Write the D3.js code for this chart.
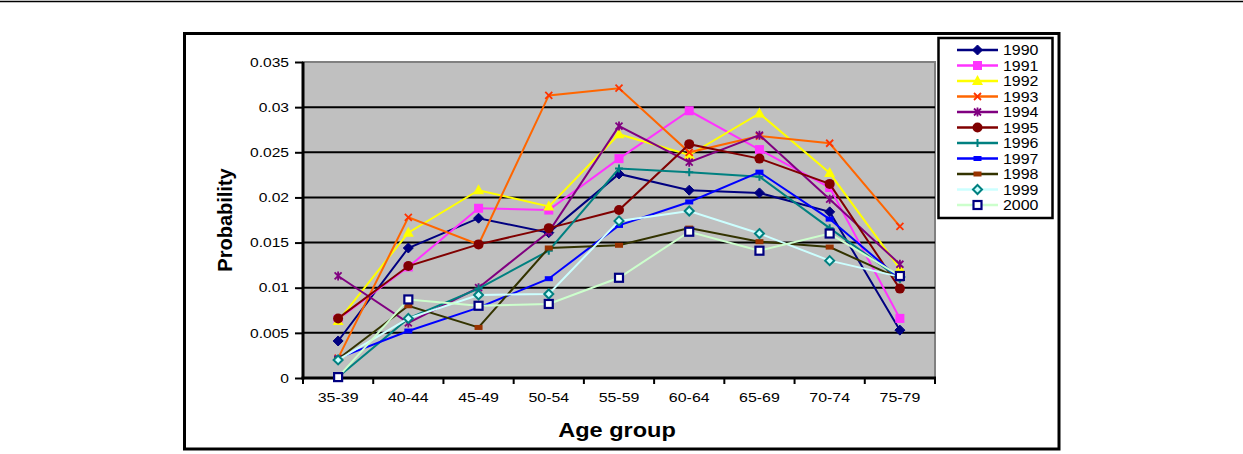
<!DOCTYPE html>
<html><head><meta charset="utf-8">
<script src="https://cdn.jsdelivr.net/npm/d3@7"></script>
<style>body{margin:0;background:#fff}svg{display:block;font-family:"Liberation Sans",Arial,sans-serif}</style>
</head><body><svg id="c" width="1243" height="454"></svg>
<script>
const categories = ["35-39","40-44","45-49","50-54","55-59","60-64","65-69","70-74","75-79"];
const yTicks = [0,0.005,0.01,0.015,0.02,0.025,0.03,0.035];
const yTickLabels = ["0","0.005","0.01","0.015","0.02","0.025","0.03","0.035"];
const seriesNames = ["1990","1991","1992","1993","1994","1995","1996","1997","1998","1999","2000"];
const v1990 = [0.0041,0.0144,0.0177,0.0161,0.0226,0.0208,0.0205,0.0184,0.0053];
const v1991 = [0.0065,0.0123,0.0188,0.0186,0.0243,0.0296,0.0253,0.0211,0.0066];
const v1992 = [0.0063,0.0161,0.0208,0.0190,0.0270,0.0247,0.0293,0.0227,0.0121];
const v1993 = [0.0022,0.0178,0.0148,0.0313,0.0321,0.0250,0.0268,0.0260,0.0168];
const v1994 = [0.0113,0.0061,0.0100,0.0162,0.0279,0.0239,0.0269,0.0198,0.0126];
const v1995 = [0.0066,0.0124,0.0148,0.0166,0.0186,0.0259,0.0243,0.0215,0.0099];
const v1996 = [0.0001,0.0066,0.0099,0.0141,0.0232,0.0228,0.0223,0.0166,0.0110];
const v1997 = [0.0022,0.0052,0.0078,0.0110,0.0169,0.0195,0.0228,0.0176,0.0110];
const v1998 = [0.0021,0.0080,0.0056,0.0144,0.0147,0.0166,0.0151,0.0145,0.0110];
const v1999 = [0.0020,0.0066,0.0092,0.0093,0.0174,0.0185,0.0160,0.0130,0.0112];
const v2000 = [0.0001,0.0087,0.0080,0.0082,0.0111,0.0162,0.0141,0.0160,0.0113];
const seriesValues = [v1990,v1991,v1992,v1993,v1994,v1995,v1996,v1997,v1998,v1999,v2000];

const styles = [
  {line:"#000080", marker:"diamond", fill:"#000080", stroke:"#000080"},
  {line:"#FF33FF", marker:"square", fill:"#FF33FF", stroke:"#FF33FF"},
  {line:"#FFFF00", marker:"triangle", fill:"#FFFF00", stroke:"#FFFF00"},
  {line:"#FF6600", marker:"x", fill:"none", stroke:"#FF3300"},
  {line:"#800080", marker:"star", fill:"none", stroke:"#800080"},
  {line:"#800000", marker:"circle", fill:"#800000", stroke:"#800000"},
  {line:"#008080", marker:"plus", fill:"none", stroke:"#008080"},
  {line:"#0000FF", marker:"dash", fill:"#0000FF", stroke:"#0000FF"},
  {line:"#333300", marker:"dash", fill:"#993300", stroke:"#993300"},
  {line:"#CCFFFF", marker:"odiamond", fill:"#CCFFFF", stroke:"#008080"},
  {line:"#CCFFCC", marker:"osquare", fill:"#FFFFFF", stroke:"#000080"}
];

function stretch(sel, f) {
  sel.each(function(){
    const w = this.getComputedTextLength();
    d3.select(this).attr("textLength", w*f).attr("lengthAdjust","spacingAndGlyphs");
  });
}

const svg = d3.select("#c");
const W = 1243, H = 454;
svg.append("line").attr("x1",0).attr("x2",W).attr("y1",1.5).attr("y2",1.5).attr("stroke","#000").attr("stroke-width",1.5);
svg.append("rect").attr("x",184.5).attr("y",33.5).attr("width",874.5).attr("height",415.5).attr("fill","#fff").attr("stroke","#000").attr("stroke-width",3);

const pl = 303, pr = 935, pt = 62, pb = 378;
const x = d3.scaleBand().domain(categories).range([pl,pr]);
const y = d3.scaleLinear().domain([0,0.035]).range([pb,pt]);

svg.append("rect").attr("x",pl).attr("y",pt).attr("width",pr-pl).attr("height",pb-pt).attr("fill","#C0C0C0").attr("stroke","#808080").attr("stroke-width",2);

svg.append("g").selectAll("line").data(yTicks.filter(d=>d>0 && d<0.035)).join("line")
  .attr("x1",pl).attr("x2",pr).attr("y1",d=>y(d)).attr("y2",d=>y(d))
  .attr("stroke","#000").attr("stroke-width",2);

const yAxis = d3.axisLeft(y).tickValues(yTicks).tickFormat((d,i)=>yTickLabels[i]).tickSize(8).tickPadding(6);
const gy = svg.append("g").attr("transform",`translate(${pl},0)`).call(yAxis);
gy.select(".domain").remove();
gy.selectAll(".tick line").attr("stroke","#000").attr("stroke-width",2);
gy.selectAll(".tick text").attr("font-size",13).attr("fill","#000").attr("font-family","Liberation Sans, Arial, sans-serif").call(stretch,1.2);
svg.append("line").attr("x1",pl).attr("x2",pl).attr("y1",pt).attr("y2",pb+1.5).attr("stroke","#000").attr("stroke-width",3);

const xAxis = d3.axisBottom(x).tickSize(0).tickPadding(14);
const gx = svg.append("g").attr("transform",`translate(0,${pb})`).call(xAxis);
gx.select(".domain").remove();
gx.selectAll(".tick text").attr("font-size",13.5).attr("fill","#000").attr("font-family","Liberation Sans, Arial, sans-serif").call(stretch,1.18);
svg.append("line").attr("x1",pl-1.5).attr("x2",pr+1).attr("y1",pb).attr("y2",pb).attr("stroke","#000").attr("stroke-width",3);
svg.append("g").selectAll("line").data(d3.range(categories.length+1)).join("line")
  .attr("x1",i=>pl+i*x.step()).attr("x2",i=>pl+i*x.step()).attr("y1",pb).attr("y2",pb+6)
  .attr("stroke","#000").attr("stroke-width",2);

svg.append("text").attr("x",(pl+pr)/2 - 2).attr("y",437).attr("text-anchor","middle")
  .attr("font-size",21).attr("font-weight","bold").text("Age group").call(stretch,1.12);
svg.append("text").attr("transform",`translate(232,220) rotate(-90)`).attr("text-anchor","middle")
  .attr("font-size",20).attr("font-weight","bold").text("Probability");

function drawMarker(g, type, st, cx, cy) {
  const s = 5;
  switch(type){
    case "diamond": g.append("path").attr("d",`M${cx},${cy-s}L${cx+s},${cy}L${cx},${cy+s}L${cx-s},${cy}Z`).attr("fill",st.fill).attr("stroke",st.stroke); break;
    case "square": g.append("rect").attr("x",cx-4.5).attr("y",cy-4.5).attr("width",9).attr("height",9).attr("fill",st.fill); break;
    case "triangle": g.append("path").attr("d",`M${cx},${cy-6}L${cx+5.5},${cy+4}L${cx-5.5},${cy+4}Z`).attr("fill",st.fill); break;
    case "x": g.append("path").attr("d",`M${cx-3.5},${cy-3.5}L${cx+3.5},${cy+3.5}M${cx-3.5},${cy+3.5}L${cx+3.5},${cy-3.5}`).attr("stroke",st.stroke).attr("stroke-width",1.8).attr("fill","none"); break;
    case "star": g.append("path").attr("d",`M${cx-3.5},${cy-3.5}L${cx+3.5},${cy+3.5}M${cx-3.5},${cy+3.5}L${cx+3.5},${cy-3.5}M${cx},${cy-4.5}L${cx},${cy+4.5}`).attr("stroke",st.stroke).attr("stroke-width",1.8).attr("fill","none"); break;
    case "circle": g.append("circle").attr("cx",cx).attr("cy",cy).attr("r",5).attr("fill",st.fill); break;
    case "plus": g.append("path").attr("d",`M${cx-4},${cy}L${cx+4},${cy}M${cx},${cy-4}L${cx},${cy+4}`).attr("stroke",st.stroke).attr("stroke-width",2).attr("fill","none"); break;
    case "dash": g.append("rect").attr("x",cx-4).attr("y",cy-2.5).attr("width",8).attr("height",5).attr("fill",st.fill); break;
    case "odiamond": g.append("path").attr("d",`M${cx},${cy-4.5}L${cx+4.5},${cy}L${cx},${cy+4.5}L${cx-4.5},${cy}Z`).attr("fill",st.fill).attr("stroke",st.stroke).attr("stroke-width",2); break;
    case "osquare": g.append("rect").attr("x",cx-4).attr("y",cy-4).attr("width",8).attr("height",8).attr("fill",st.fill).attr("stroke",st.stroke).attr("stroke-width",2.2); break;
  }
}

const line = d3.line().x((d,i)=>x(categories[i])+x.bandwidth()/2).y(d=>y(d));
const gs = svg.append("g");
seriesValues.forEach((vals,k)=>{
  const st = styles[k];
  const g = gs.append("g");
  g.append("path").datum(vals).attr("d",line).attr("fill","none").attr("stroke",st.line).attr("stroke-width",2);
  vals.forEach((v,i)=>drawMarker(g, st.marker, st, x(categories[i])+x.bandwidth()/2, y(v)));
});

const lg = svg.append("g");
lg.append("rect").attr("x",938.5).attr("y",38).attr("width",114).attr("height",180).attr("fill","#fff").attr("stroke","#000").attr("stroke-width",2.5);
seriesNames.forEach((n,k)=>{
  const st = styles[k];
  const yy = 50 + k*15.5;
  lg.append("line").attr("x1",957).attr("x2",998).attr("y1",yy).attr("y2",yy).attr("stroke",st.line).attr("stroke-width",2.5);
  drawMarker(lg, st.marker, st, 977.5, yy);
  lg.append("text").attr("x",1003).attr("y",yy+5).attr("font-size",14.5).text(n).call(stretch,1.1);
});
</script></body></html>
